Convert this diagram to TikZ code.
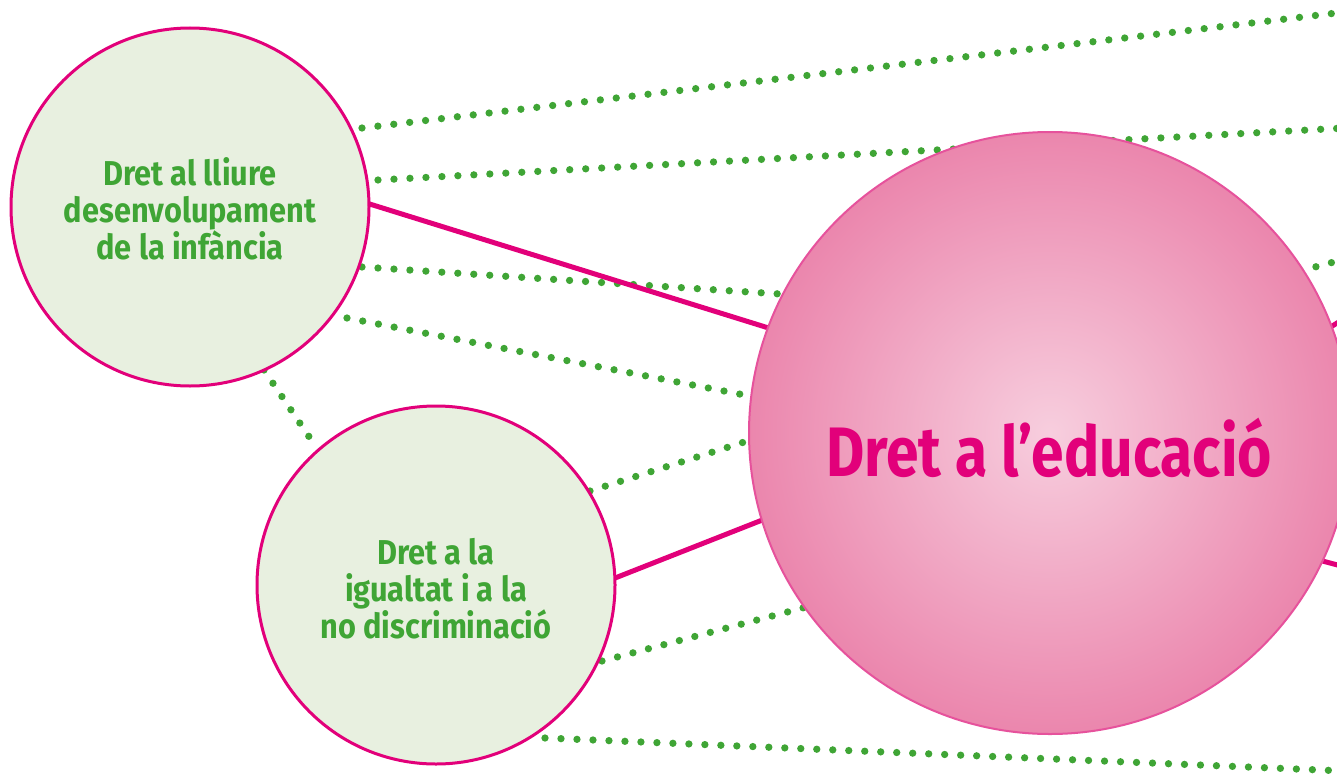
\documentclass[tikz,border=0pt]{standalone}
\usepackage{fontspec}
\setmainfont{Fira Sans}[FakeStretch=0.82]
\newfontfamily\smallfam{Fira Sans}[FakeStretch=0.89]
\newfontfamily\bigfam{Fira Sans}[FakeStretch=0.84]
\definecolor{dotgreen}{HTML}{3FA535}
\definecolor{txtgreen}{HTML}{3FA535}
\definecolor{palegreen}{HTML}{E8F0E0}
\definecolor{mag}{HTML}{E2007A}
\definecolor{pinkin}{HTML}{F7CEDE}
\definecolor{pinkout}{HTML}{EB86AD}
\definecolor{pinkrim}{HTML}{E6529C}
\tikzset{
  dotline/.style={draw=dotgreen, line width=7.3pt, line cap=round, dash pattern=on 0pt off 16pt},
  magline/.style={draw=mag, line width=5pt},
  bubble/.style={circle, draw=mag, line width=3pt, fill=palegreen, minimum size=358pt, inner sep=0pt},
  bigbubble/.style={circle, draw=pinkrim, line width=2pt, inner color=pinkin, outer color=pinkout, minimum size=602pt, inner sep=0pt},
  smalltxt/.style={align=center, text=txtgreen, font=\smallfam\bfseries\fontsize{34.5}{37}\selectfont},
  bigtxt/.style={text=mag, font=\bigfam\bfseries\fontsize{70}{80}\selectfont, inner sep=0pt}
}
\begin{document}
\begin{tikzpicture}[x=1pt,y=-1pt]
\useasboundingbox (0,0) rectangle (1337,776);
\clip (0,0) rectangle (1337,776);
% coordinates for connector ends
\coordinate (d1a) at (362,128);  \coordinate (d1b) at (1345,12);
\coordinate (d2a) at (378,180);  \coordinate (d2b) at (1345,128);
\coordinate (d3a) at (362,267);  \coordinate (d3b) at (780,294);
\coordinate (d4a) at (347,318);  \coordinate (d4b) at (760,398);
\coordinate (d5a) at (264,370);  \coordinate (d5b) at (314,444);
\coordinate (d6a) at (590,491);  \coordinate (d6b) at (760,437);
\coordinate (d7a) at (602,661);  \coordinate (d7b) at (810,606);
\coordinate (d8a) at (545,738);  \coordinate (d8b) at (1345,771);
\coordinate (d9a) at (1285,275); \coordinate (d9b) at (1345,259);
\coordinate (m1a) at (360,201);  \coordinate (m1b) at (775,330);
\coordinate (m2a) at (610,580);  \coordinate (m2b) at (775,515);
\coordinate (m3a) at (1310,340); \coordinate (m3b) at (1345,318);
\coordinate (m4a) at (1300,555); \coordinate (m4b) at (1345,567);
% dotted connectors
\draw[dotline] (d1a) -- (d1b);
\draw[dotline] (d2a) -- (d2b);
\draw[dotline] (d3a) -- (d3b);
\draw[dotline] (d4a) -- (d4b);
\draw[dotline] (d5a) -- (d5b);
\draw[dotline] (d6a) -- (d6b);
\draw[dotline] (d7a) -- (d7b);
\draw[dotline] (d8a) -- (d8b);
\draw[dotline] (d9a) -- (d9b);
% solid connectors
\draw[magline] (m1a) -- (m1b);
\draw[magline] (m2a) -- (m2b);
\draw[magline] (m3a) -- (m3b);
\draw[magline] (m4a) -- (m4b);
% circles
\node[bubble] (c1) at (190,207) {};
\node[bubble] (c2) at (436,585) {};
\node[bigbubble] (big) at (1050,433) {};
% texts
\node[smalltxt] (t1) at (190,209) {Dret al lliure\\desenvolupament\\de la infància};
\node[smalltxt] (t2) at (436,589) {Dret a la\\igualtat i a la\\no discriminació};
\node[bigtxt, anchor=base] (t3) at (1049,476) {Dret a l’educació};
\end{tikzpicture}
\end{document}
